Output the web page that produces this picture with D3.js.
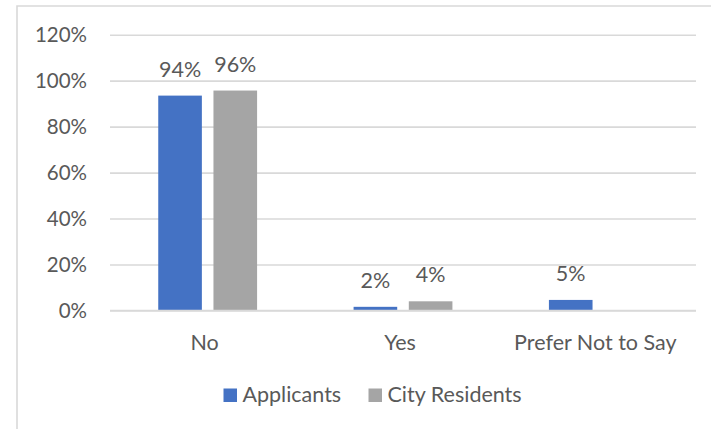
<!DOCTYPE html>
<html>
<head>
<meta charset="utf-8">
<script src="https://cdn.jsdelivr.net/npm/d3@7"></script>
<style>
  html, body { margin: 0; padding: 0; background: #fff; }
  svg { display: block; }
  text { font-family: Lato, "Open Sans", sans-serif; fill: #595959; }
</style>
</head>
<body>
<svg id="chart" width="711" height="429"></svg>
<script>
const categories = ["No", "Yes", "Prefer Not to Say"];
const series = ["Applicants", "City Residents"];
const applicants = [0.935, 0.016, 0.046];
const cityResidents = [0.957, 0.04, null];
const yTicks = [0, 0.2, 0.4, 0.6, 0.8, 1.0, 1.2];
const colors = ["#4472C4", "#A5A5A5"];

const svg = d3.select("#chart");
const W = 711, H = 429;
const plot = { left: 110, right: 696, top: 34.7, bottom: 310.5 };
const FS = "21.5px";

// chart border (partially visible)
svg.append("path")
  .attr("d", `M17,${H} L17,6 L${W},6`)
  .attr("fill", "none")
  .attr("stroke", "#d9d9d9")
  .attr("stroke-width", 1.6);

const x0 = d3.scaleBand().domain(categories).range([plot.left, plot.right]).padding(0);
const bw = x0.bandwidth();
const x1 = d3.scaleBand().domain(series).range([bw * 0.247, bw * 0.753]).paddingInner(0.21);
const y = d3.scaleLinear().domain([0, 1.2]).range([plot.bottom, plot.top]);
const fmt = d3.format(".0%");

// gridlines
const yAxis = d3.axisLeft(y).tickValues(yTicks).tickFormat(fmt)
  .tickSize(-(plot.right - plot.left)).tickPadding(23);
const gy = svg.append("g").attr("transform", `translate(${plot.left},0)`).call(yAxis);
gy.select(".domain").remove();
gy.selectAll(".tick line").attr("stroke", "#d9d9d9").attr("stroke-width", 1.6);
gy.selectAll(".tick text")
  .attr("fill", "#595959")
  .style("font-size", "20.5px")
  .style("font-family", "Lato, 'Open Sans', sans-serif");

// data
const data = categories.map((c, i) => ({
  cat: c,
  vals: [
    { s: series[0], v: applicants[i], color: colors[0] },
    { s: series[1], v: cityResidents[i], color: colors[1] }
  ].filter(d => d.v !== null)
}));

const groups = svg.append("g").selectAll("g").data(data).join("g")
  .attr("transform", d => `translate(${x0(d.cat)},0)`);

groups.selectAll("rect").data(d => d.vals).join("rect")
  .attr("x", d => x1(d.s))
  .attr("width", x1.bandwidth())
  .attr("y", d => y(d.v))
  .attr("height", d => y(0) - y(d.v))
  .attr("fill", d => d.color);

groups.selectAll("text").data(d => d.vals).join("text")
  .attr("x", d => x1(d.s) + x1.bandwidth() / 2)
  .attr("y", d => y(d.v) - 19)
  .attr("text-anchor", "middle")
  .style("font-size", FS)
  .text(d => fmt(d.v));

// x axis line + labels
svg.append("line")
  .attr("x1", plot.left).attr("x2", plot.right)
  .attr("y1", y(0)).attr("y2", y(0))
  .attr("stroke", "#d9d9d9").attr("stroke-width", 1.6);

svg.append("g").selectAll("text").data(categories).join("text")
  .attr("x", d => x0(d) + bw / 2 - 3)
  .attr("y", 349.5)
  .attr("text-anchor", "middle")
  .style("font-size", FS)
  .text(d => d);

// legend
const legendItems = [
  { s: series[0], color: colors[0], x: 223.5 },
  { s: series[1], color: colors[1], x: 368.5 }
];
const lg = svg.append("g").selectAll("g").data(legendItems).join("g")
  .attr("transform", d => `translate(${d.x},0)`);
lg.append("rect").attr("x", 0).attr("y", 388.5).attr("width", 13.5).attr("height", 13.5)
  .attr("fill", d => d.color);
lg.append("text").attr("x", 19).attr("y", 401.5)
  .style("font-size", FS)
  .text(d => d.s);
</script>
</body>
</html>
